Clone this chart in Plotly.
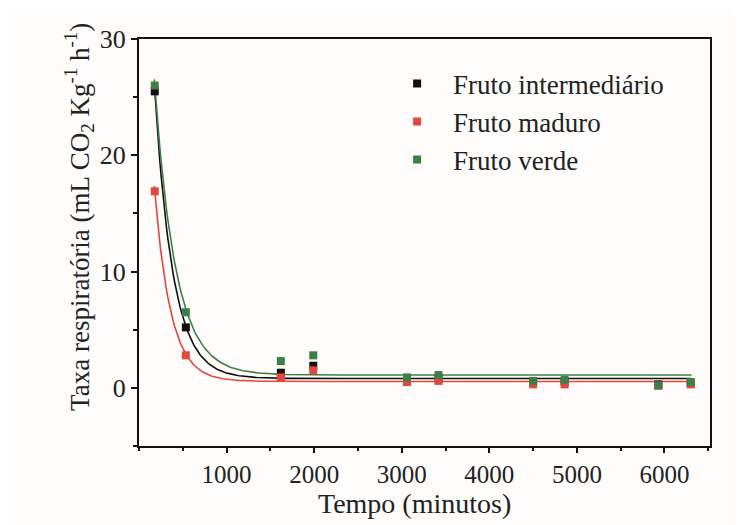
import numpy as np
import plotly.graph_objects as go

# Data
tempo = [180, 535, 1620, 1990, 3060, 3420, 4500, 4860, 5930, 6300]
intermediario = [25.5, 5.2, 1.3, 1.9, 0.8, 0.8, 0.5, 0.5, 0.3, 0.4]
maduro = [16.9, 2.8, 0.9, 1.5, 0.5, 0.6, 0.3, 0.3, 0.2, 0.3]
verde = [26.0, 6.5, 2.3, 2.8, 0.9, 1.1, 0.6, 0.7, 0.2, 0.5]

series_names = ["Fruto intermediário", "Fruto maduro", "Fruto verde"]
series_values = [intermediario, maduro, verde]
colors = ["#111111", "#e0483e", "#3f7f47"]

# Exponential-decay fit parameters (y0, t) estimated from the drawn curves
fit_y0 = [0.8, 0.55, 1.1]
fit_t = [208, 183, 240]

x_tickvals = [1000, 2000, 3000, 4000, 5000, 6000]
y_tickvals = [0, 10, 20, 30]

fig = go.Figure()

xfit = np.linspace(tempo[0] - 5, tempo[-1] + 10, 400)
for vals, c, y0, t in zip(series_values, colors, fit_y0, fit_t):
    A = (vals[0] - y0) / np.exp(-tempo[0] / t)
    yfit = y0 + A * np.exp(-xfit / t)
    fig.add_trace(go.Scatter(x=xfit, y=yfit, mode="lines",
                             line=dict(color=c, width=1.6),
                             showlegend=False, hoverinfo="skip"))

for name, vals, c in zip(series_names, series_values, colors):
    fig.add_trace(go.Scatter(x=tempo, y=vals, mode="markers", name=name,
                             marker=dict(symbol="square", size=8, color=c)))

font_family = "Liberation Serif, Times New Roman, serif"

fig.update_layout(
    width=740, height=525,
    margin=dict(l=131, r=38, t=31, b=87),
    paper_bgcolor="#fdfcfa",
    plot_bgcolor="#fdfcfa",
    font=dict(family=font_family, size=25, color="#222222"),
    legend=dict(x=0.424, y=0.95, xanchor="left", yanchor="top",
                bgcolor="rgba(0,0,0,0)", font=dict(size=27),
                itemwidth=62, tracegroupgap=0),
    showlegend=True,
    annotations=[
        dict(text="Taxa respiratória (mL CO<sub>2</sub> Kg<sup>-1</sup> h<sup>-1</sup>)",
             textangle=-90, xref="paper", yref="paper", x=-0.105, y=0.563,
             xanchor="center", yanchor="middle", showarrow=False,
             font=dict(size=27, family=font_family, color="#222222")),
        dict(text="Tempo (minutos)", xref="paper", yref="paper",
             x=0.483, y=-0.142, xanchor="center", yanchor="middle",
             showarrow=False,
             font=dict(size=28, family=font_family, color="#222222")),
    ],
)

fig.update_xaxes(
    range=[0, 6520],
    tickvals=x_tickvals,
    ticks="outside", ticklen=5, tickwidth=2, tickcolor="#111",
    minor=dict(dtick=500, tick0=0, ticks="outside", ticklen=3, tickwidth=1.5, tickcolor="#111"),
    showline=True, linecolor="#111", linewidth=2, mirror=True,
    showgrid=False, zeroline=False, automargin=False,
    tickfont=dict(size=25),
)

fig.update_yaxes(
    range=[-5, 30],
    tickvals=y_tickvals,
    ticks="outside", ticklen=6, tickwidth=2, tickcolor="#111",
    minor=dict(dtick=5, tick0=0, ticks="outside", ticklen=4, tickwidth=1.5, tickcolor="#111"),
    showline=True, linecolor="#111", linewidth=2, mirror=True,
    showgrid=False, zeroline=False, automargin=False,
    tickfont=dict(size=26),
)

fig.write_html("out.html")
